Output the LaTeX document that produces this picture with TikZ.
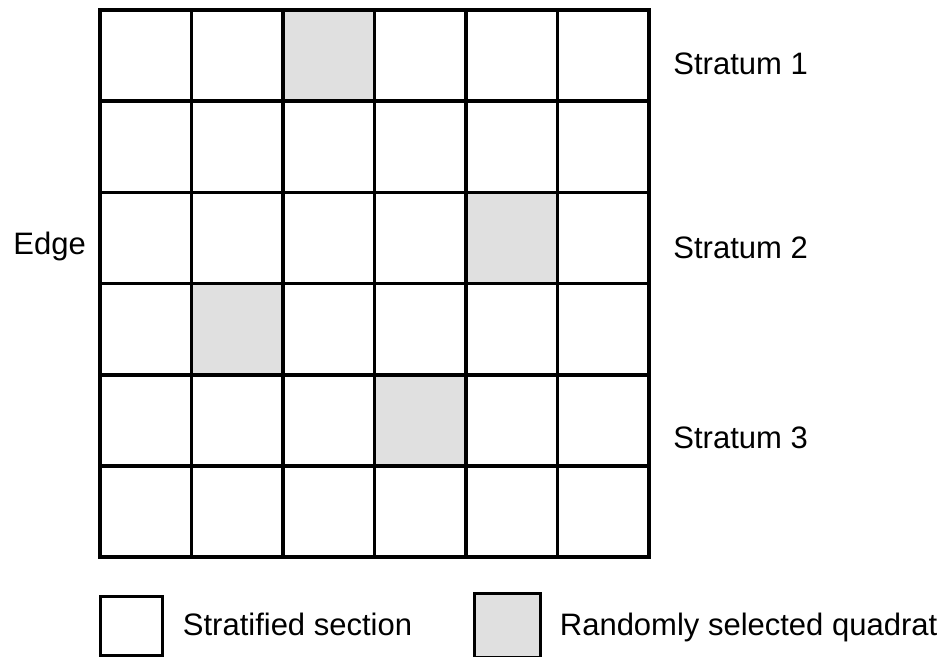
\documentclass[tikz,border=0pt]{standalone}
\usepackage{fontspec}
\setmainfont{Liberation Sans}
\usetikzlibrary{positioning}
\definecolor{quadratfill}{RGB}{224,224,224}

\begin{document}
\begin{tikzpicture}[x=1pt, y=1pt,
    cell/.style={rectangle, draw=black, line width=1.8pt,
                 minimum width=45.75pt, minimum height=45.6pt,
                 inner sep=0pt, outer sep=0pt},
    quadrat/.style={cell, fill=quadratfill},
    keybox/.style={rectangle, draw=black, line width=1.5pt, inner sep=0pt},
    lbl/.style={font=\fontsize{15.5}{18}\selectfont, inner sep=0pt}
]
\useasboundingbox (0,0) rectangle (471,-328.5);

% stratified sections, 6 x 6
\foreach \r in {1,...,6}
  \foreach \c in {1,...,6}
    \node[cell] (cell-\r-\c) at ({50+(\c-0.5)*45.75}, {-5-(\r-0.5)*45.6}) {};

% randomly selected quadrats
\foreach \r/\c in {1/3, 3/5, 4/2, 5/4}
  \node[quadrat] (quad-\r-\c) at (cell-\r-\c) {};

\node[lbl, anchor=base west] (stratum1) at (336.5,-37.5) {Stratum 1};
\node[lbl, anchor=base west] (stratum2) at (336.5,-129.5) {Stratum 2};
\node[lbl, anchor=base west] (stratum3) at (336.5,-224.5) {Stratum 3};
\node[lbl, anchor=base west] (edge) at (6.5,-127.5) {Edge};

% key
\node[keybox, minimum width=31pt, minimum height=29.5pt] (keysection) at (65.5,-312.75) {};
\node[lbl, right=9.5pt of keysection, anchor=base west, yshift=-4.75pt] (keysectiontxt) {Stratified section};

\node[keybox, fill=quadratfill, minimum width=33pt, minimum height=32pt] (keyquadrat) at (253.5,-312.5) {};
\node[lbl, right=9pt of keyquadrat, anchor=base west, yshift=-5pt] (keyquadrattxt) {Randomly selected quadrat};

\end{tikzpicture}
\end{document}
